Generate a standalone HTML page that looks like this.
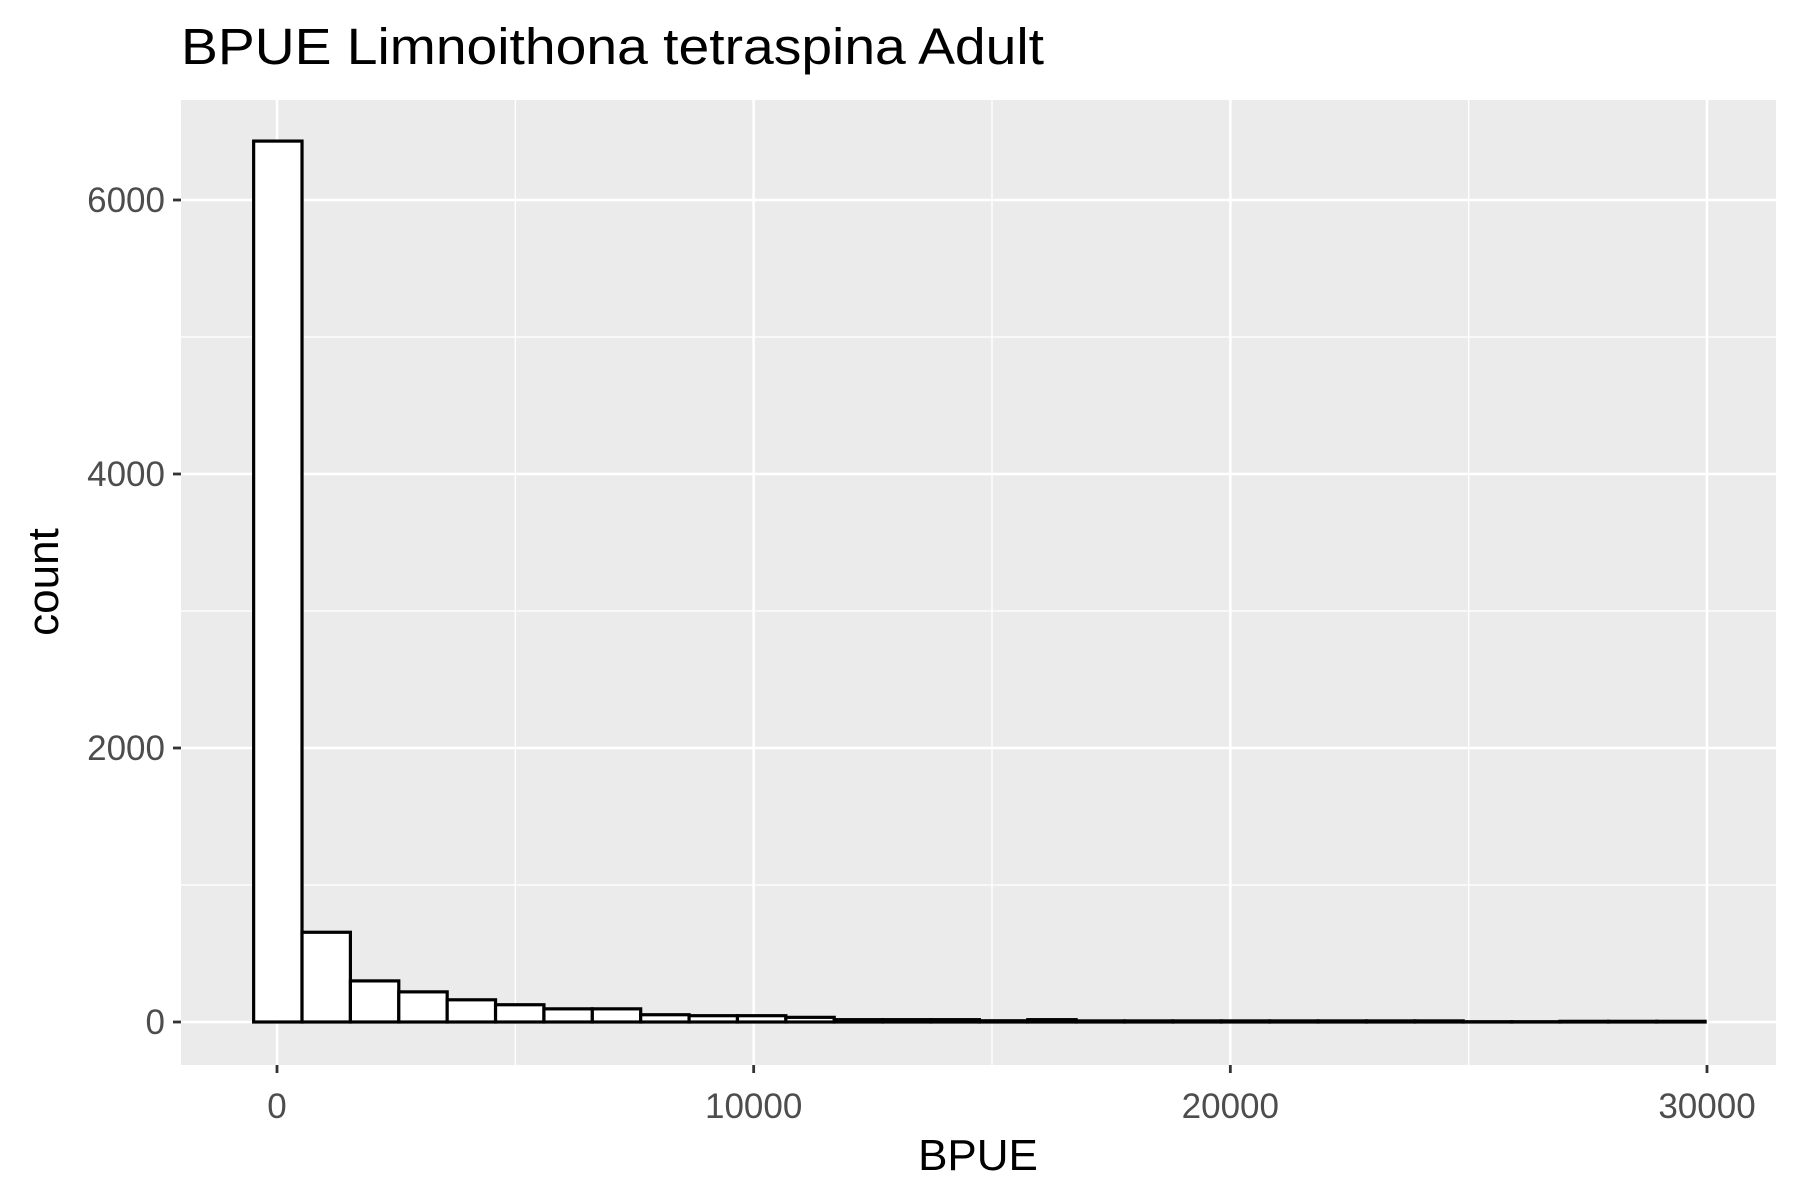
<!DOCTYPE html>
<html><head><meta charset="utf-8"><style>html,body{margin:0;padding:0;background:#fff}svg{display:block}text{font-family:"Liberation Sans",Arial,sans-serif}</style></head>
<body>
<svg id="chart" width="1800" height="1200" xmlns="http://www.w3.org/2000/svg">
<rect width="1800" height="1200" fill="#fff"/>
<text x="181" y="64" font-size="51" fill="#000" textLength="863" lengthAdjust="spacingAndGlyphs">BPUE Limnoithona tetraspina Adult</text>
<rect x="181" y="100" width="1595" height="965" fill="#ebebeb"/>
<g id="grid"></g>
<g id="bars"></g>
<g id="axes"></g>
<text x="978" y="1170" font-size="44" text-anchor="middle" fill="#000">BPUE</text>
<text transform="translate(58,582) rotate(-90)" font-size="44" text-anchor="middle" fill="#000">count</text>
</svg>
<script>
const binStart = -490;
const binWidth = 1015;
const counts = [6430, 655, 300, 220, 162, 126, 96, 96, 53, 46, 46, 34, 17, 17, 17, 9, 17, 8, 8, 8, 8, 8, 8, 8, 8, 2, 2, 5, 5, 5];
const xTicks = [0, 10000, 20000, 30000];
const xTickLabels = ["0", "10000", "20000", "30000"];
const xMinor = [5000, 15000, 25000];
const yTicks = [0, 2000, 4000, 6000];
const yTickLabels = ["0", "2000", "4000", "6000"];
const yMinor = [1000, 3000, 5000];

const NS = "http://www.w3.org/2000/svg";
function xs(v){ return 277 + v * (1707 - 277) / 30000; }
function ys(v){ return 1022 - v * (1022 - 200) / 6000; }
function mk(tag, attrs, parent){
  const e = document.createElementNS(NS, tag);
  for (const k in attrs) e.setAttribute(k, attrs[k]);
  parent.appendChild(e); return e;
}
const grid = document.getElementById('grid');
const bars = document.getElementById('bars');
const axes = document.getElementById('axes');
xMinor.forEach(v => {
  const l = mk('line', {x1: xs(v), x2: xs(v), y1: 100, y2: 1065, stroke: '#fff', 'stroke-width': 1.3}, grid);
  
  
});
yMinor.forEach(v => {
  const l = mk('line', {x1: 181, x2: 1776, y1: ys(v), y2: ys(v), stroke: '#fff', 'stroke-width': 1.3}, grid);
  
  
});
xTicks.forEach((v, i) => {
  const l = mk('line', {x1: xs(v), x2: xs(v), y1: 100, y2: 1065, stroke: '#fff', 'stroke-width': 2.6}, grid);
  
  
  const t = mk('line', {x1: xs(v), x2: xs(v), y1: 1065, y2: 1073, stroke: '#333', 'stroke-width': 2.8}, axes);
  
  
  const tx = mk('text', {x: xs(v), y: 1118, 'font-size': 35, fill: '#4d4d4d', 'text-anchor': 'middle'}, axes);
  tx.textContent = xTickLabels[i];
  
  
});
yTicks.forEach((v, i) => {
  const l = mk('line', {x1: 181, x2: 1776, y1: ys(v), y2: ys(v), stroke: '#fff', 'stroke-width': 2.6}, grid);
  
  
  const t = mk('line', {x1: 173, x2: 181, y1: ys(v), y2: ys(v), stroke: '#333', 'stroke-width': 2.8}, axes);
  
  
  const tx = mk('text', {x: 165, y: ys(v) + 12, 'font-size': 35, fill: '#4d4d4d', 'text-anchor': 'end'}, axes);
  tx.textContent = yTickLabels[i];
  
  
});
counts.forEach((c, i) => {
  const x0 = xs(binStart + i * binWidth), x1 = xs(binStart + (i + 1) * binWidth);
  const r = mk('rect', {x: x0, y: ys(c), width: x1 - x0, height: ys(0) - ys(c), fill: '#fff', stroke: '#000', 'stroke-width': 3.2}, bars);
  
  
});
</script>
</body></html>
